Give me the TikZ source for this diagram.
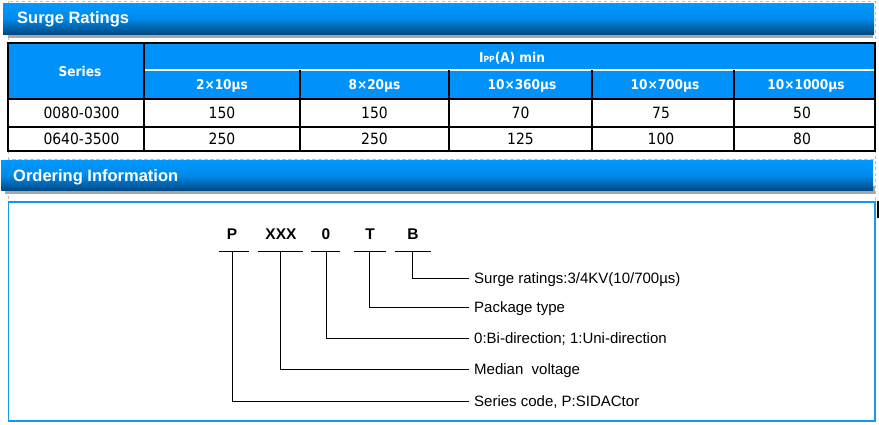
\documentclass[tikz,border=0pt]{standalone}
\usepackage{fontspec}
\setmainfont{Liberation Sans}
\newfontfamily\tah{DejaVu Sans Condensed}
\begin{document}
\begin{tikzpicture}[x=1pt,y=-1pt,
  banner/.style={top color=bannertop, bottom color=bannerbot, middle color=bannermid, draw=none},
  shadowbox/.style={fill=black!35, draw=none},
  bantext/.style={anchor=base west, inner sep=0pt, text=white, font=\fontsize{16.5}{18}\selectfont\bfseries},
  hcell/.style={anchor=base, inner sep=0pt, text=white, font=\tah\fontsize{13.5}{15}\selectfont\bfseries},
  bcell/.style={anchor=base, inner sep=0pt, text=black, font=\tah\fontsize{15.5}{17}\selectfont},
  tline/.style={draw=black, line width=1.3pt},
  code/.style={anchor=base, inner sep=0pt, font=\fontsize{15.5}{17}\selectfont\bfseries},
  lbl/.style={anchor=base west, inner sep=0pt, font=\fontsize{15}{17}\selectfont},
  lead/.style={draw=black, line width=0.9pt}
]
\definecolor{bannertop}{RGB}{0,153,255}
\definecolor{bannermid}{RGB}{0,138,235}
\definecolor{bannerbot}{RGB}{0,72,128}
\definecolor{hdrblue}{RGB}{0,146,250}
\definecolor{boxblue}{RGB}{20,150,245}
\definecolor{dashgray}{RGB}{190,190,190}
\useasboundingbox (0,0) rectangle (879,424);
\fill[white] (0,0) rectangle (879,424);

% dashed section frames
\draw[dashgray, dashed, line width=0.8pt] (8,1) rectangle (875.5,159);
\draw[dashgray, dashed, line width=0.8pt] (8,159.5) rectangle (875.5,421);

% ---- Surge Ratings banner
\fill[shadowbox] (8,31) rectangle (873,37.5);
\path[banner] (3,3) rectangle (874,34);
\node[bantext] (t1) at (17,23) {Surge Ratings};

% ---- table
\fill[hdrblue] (8,43) rectangle (875,99);
\draw[white, line width=1.2pt] (144,70) -- (875,70);
\foreach \x in {300,449,592,734} \draw[tline] (\x,70) -- (\x,151);
\draw[tline] (144,43) -- (144,151);
\draw[tline] (8,99) -- (875,99);
\draw[tline] (8,127) -- (875,127);
\draw[tline] (8,43) rectangle (875,151);

\node[hcell] (hs) at (80,76) {Series};
\node[hcell] (hi) at (512,62) {I{\fontsize{8.5}{9}\selectfont PP}(A) min};
\node[hcell] (h1) at (222,89.3) {2×10µs};
\node[hcell] (h2) at (374.5,89.3) {8×20µs};
\node[hcell] (h3) at (522,89.3) {10×360µs};
\node[hcell] (h4) at (665,89.3) {10×700µs};
\node[hcell] (h5) at (806,89.3) {10×1000µs};

\node[bcell] (r1c0) at (81.5,118.6) {0080-0300};
\node[bcell] (r1c1) at (222,118.6) {150};
\node[bcell] (r1c2) at (374.5,118.6) {150};
\node[bcell] (r1c3) at (520.5,118.6) {70};
\node[bcell] (r1c4) at (661,118.6) {75};
\node[bcell] (r1c5) at (802,118.6) {50};
\node[bcell] (r2c0) at (81.5,144.7) {0640-3500};
\node[bcell] (r2c1) at (222,144.7) {250};
\node[bcell] (r2c2) at (374.5,144.7) {250};
\node[bcell] (r2c3) at (520.5,144.7) {125};
\node[bcell] (r2c4) at (661,144.7) {100};
\node[bcell] (r2c5) at (802,144.7) {80};

% ---- Ordering Information banner
\fill[shadowbox] (5,186) rectangle (875,194);
\path[banner] (1,160) rectangle (873,190.5);
\node[bantext] (t2) at (13,181) {Ordering Information};

% ordering box
\draw[boxblue, line width=1.2pt] (8.5,202) rectangle (875,421);
\fill[black] (877,201) rectangle (879,218);

% code letters
\node[code] (cP) at (232,239.5) {P};
\node[code] (cX) at (281,239.5) {XXX};
\node[code] (c0) at (326,239.5) {0};
\node[code] (cT) at (370,239.5) {T};
\node[code] (cB) at (413,239.5) {B};

\draw[lead] (219,251) -- (249,251);
\draw[lead] (258,251) -- (303,251);
\draw[lead] (311,251) -- (340,251);
\draw[lead] (354,251) -- (386,251);
\draw[lead] (395,251) -- (431,251);

\coordinate (sP) at (232,251);
\coordinate (sX) at (280,251);
\coordinate (s0) at (326,251);
\coordinate (sT) at (369,251);
\coordinate (sB) at (412,251);

\node[lbl] (lB) at (474,283) {Surge ratings:3/4KV(10/700µs)};
\node[lbl] (lT) at (474,312) {Package type};
\node[lbl] (l0) at (474,343) {0:Bi-direction; 1:Uni-direction};
\node[lbl] (lX) at (474,374) {Median\ \ voltage};
\node[lbl] (lP) at (474,406) {Series code, P:SIDACtor};

\draw[lead] (sB) |- (469,278);
\draw[lead] (sT) |- (469,307);
\draw[lead] (s0) |- (469,338);
\draw[lead] (sX) |- (469,369);
\draw[lead] (sP) |- (469,401);
\end{tikzpicture}
\end{document}
